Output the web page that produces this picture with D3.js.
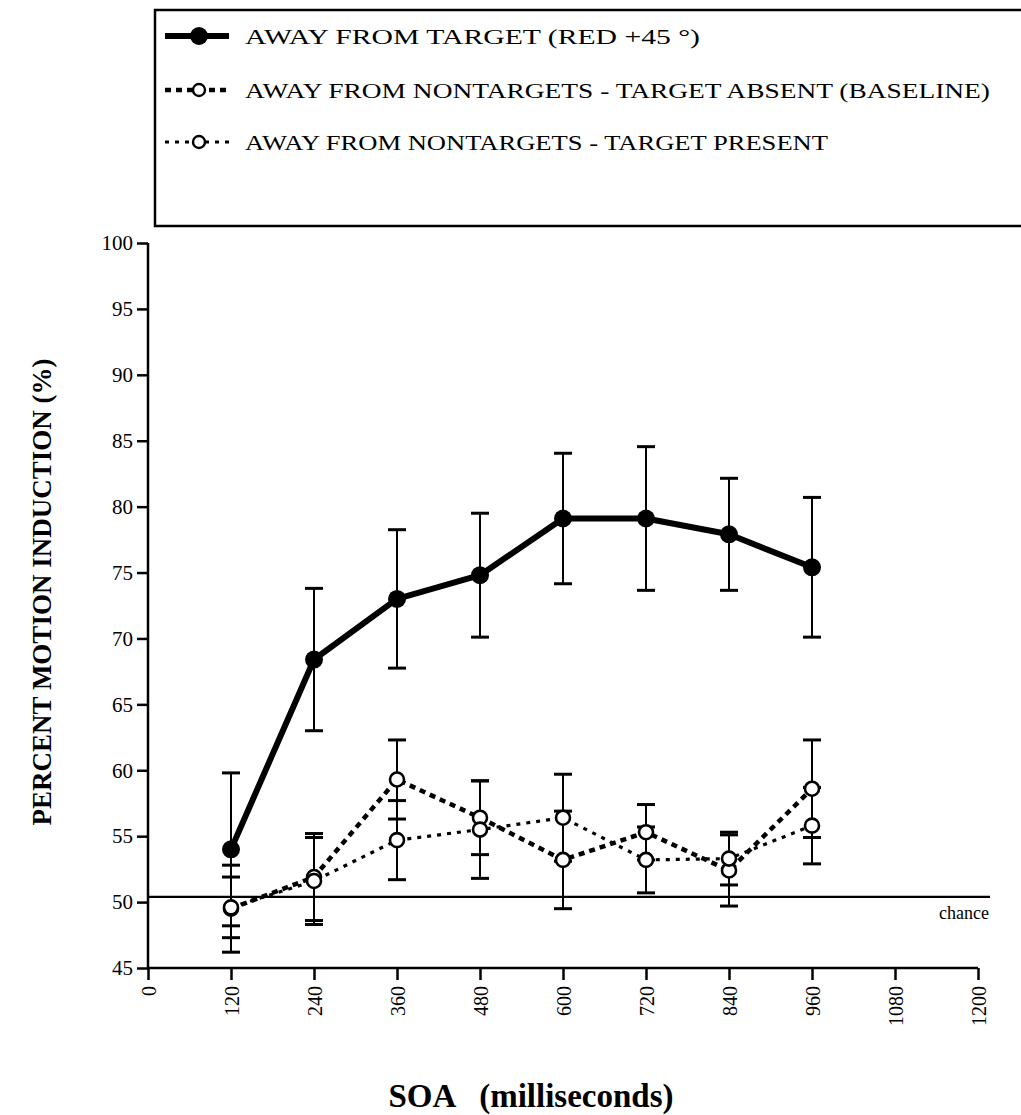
<!DOCTYPE html>
<html>
<head>
<meta charset="utf-8">
<script src="https://cdn.jsdelivr.net/npm/d3@7"></script>
<style>
    body { margin: 0; background: #fff; }
    text { font-family: "Liberation Serif", "Times New Roman", serif; fill: #000; }
</style>
</head>
<body>
<div class="view1"></div>
<script>

//SOA values (ms)
const soa = [120, 240, 360, 480, 600, 720, 840, 960];

//Away from target (red +45)
const targetMean = [54.0, 68.4, 73.0, 74.8, 79.1, 79.1, 77.9, 75.4];
const targetErr  = [5.8, 5.4, 5.25, 4.7, 4.95, 5.45, 4.25, 5.3];

//Away from nontargets - target absent (baseline)
const baseMean = [49.5, 51.9, 59.3, 56.4, 53.2, 55.3, 52.4, 58.6];
const baseErr  = [3.3, 3.3, 3.0, 2.8, 3.7, 2.1, 2.7, 3.7];

//Away from nontargets - target present
const presMean = [49.6, 51.6, 54.7, 55.5, 56.4, 53.2, 53.3, 55.8];
const presErr  = [2.3, 3.3, 3.0, 3.7, 3.3, 2.5, 2.0, 2.9];

const xTicks = [0, 120, 240, 360, 480, 600, 720, 840, 960, 1080, 1200];
const yTicks = [45, 50, 55, 60, 65, 70, 75, 80, 85, 90, 95, 100];
const chanceLevel = 50.4;

const legendLabels = [
    "AWAY FROM TARGET (RED +45 °)",
    "AWAY FROM NONTARGETS - TARGET ABSENT (BASELINE)",
    "AWAY FROM NONTARGETS - TARGET PRESENT"
];

/** Class for the line chart */
class Chart {
    constructor() {
        this.width = 1021;
        this.height = 1115;
        //plot area edges (pixels)
        this.margin = {top: 243, right: 43, bottom: 147, left: 148};

        this.x = d3.scaleLinear().domain([0, 1200])
            .range([this.margin.left, this.width - this.margin.right]);
        this.y = d3.scaleLinear().domain([45, 100])
            .range([this.height - this.margin.bottom, this.margin.top]);

        //styles for the three series
        this.series = [
            {mean: targetMean, err: targetErr, width: 6, dash: null, filled: true, r: 9},
            {mean: baseMean, err: baseErr, width: 4.5, dash: "6,5", filled: false, r: 8},
            {mean: presMean, err: presErr, width: 3.2, dash: "4,6", filled: false, r: 8}
        ];
    }

    draw() {
        let svg = d3.select(".view1").append("svg")
            .attr("width", this.width)
            .attr("height", this.height);

        this.drawLegend(svg);
        this.drawAxes(svg);

        //chance line
        svg.append("line")
            .attr("x1", this.x(0)).attr("x2", 990)
            .attr("y1", this.y(chanceLevel)).attr("y2", this.y(chanceLevel))
            .attr("stroke", "#000").attr("stroke-width", 2.2);
        svg.append("text")
            .attr("x", 989).attr("y", this.y(chanceLevel) + 22)
            .attr("text-anchor", "end")
            .style("font-size", "18px")
            .text("chance");

        //error bars first, lines and markers on top
        this.series.forEach(s => {
            let g = svg.append("g");
            soa.forEach((t, i) => {
                let cx = this.x(t);
                let top = this.y(s.mean[i] + s.err[i]);
                let bot = this.y(s.mean[i] - s.err[i]);
                g.append("line").attr("x1", cx).attr("x2", cx).attr("y1", top).attr("y2", bot)
                    .attr("stroke", "#000").attr("stroke-width", 2);
                [top, bot].forEach(yy => {
                    g.append("line").attr("x1", cx - 9).attr("x2", cx + 9).attr("y1", yy).attr("y2", yy)
                        .attr("stroke", "#000").attr("stroke-width", 3);
                });
            });
        });

        let line = d3.line()
            .x((d, i) => this.x(soa[i]))
            .y(d => this.y(d));

        this.series.forEach(s => {
            svg.append("path")
                .datum(s.mean)
                .attr("d", line)
                .attr("fill", "none")
                .attr("stroke", "#000")
                .attr("stroke-width", s.width)
                .attr("stroke-dasharray", s.dash)
                .attr("stroke-linejoin", "round");
        });

        this.series.forEach(s => {
            svg.append("g").selectAll("circle")
                .data(s.mean)
                .join("circle")
                .attr("cx", (d, i) => this.x(soa[i]))
                .attr("cy", d => this.y(d))
                .attr("r", s.filled ? s.r : s.r - 1)
                .attr("fill", s.filled ? "#000" : "#fff")
                .attr("stroke", "#000")
                .attr("stroke-width", s.filled ? 0 : 2.6);
        });
    }

    drawAxes(svg) {
        //y axis
        let yAxis = d3.axisLeft(this.y).tickValues(yTicks).tickSize(11).tickPadding(4);
        let gy = svg.append("g")
            .attr("transform", `translate(${this.margin.left},0)`)
            .call(yAxis);
        gy.select(".domain").attr("stroke-width", 2.5).attr("d",
            `M0,${this.y(100)}V${this.y(45)}`);
        gy.selectAll(".tick line").attr("stroke-width", 2.5);
        gy.selectAll(".tick text")
            .style("font-family", "'Liberation Serif', serif")
            .style("font-size", "21px")
            .attr("fill", "#000");

        //x axis
        let xAxis = d3.axisBottom(this.x).tickValues(xTicks).tickFormat(d3.format("d"))
            .tickSize(12).tickPadding(5);
        let gx = svg.append("g")
            .attr("transform", `translate(0,${this.y(45)})`)
            .call(xAxis);
        gx.select(".domain").attr("stroke-width", 2.5).attr("d",
            `M${this.x(0)},0H${this.x(1200)}`);
        gx.selectAll(".tick line").attr("stroke-width", 2.5);
        gx.selectAll(".tick text")
            .style("font-family", "'Liberation Serif', serif")
            .style("font-size", "20px")
            .attr("fill", "#000")
            .attr("transform", "rotate(-90)")
            .attr("text-anchor", "end")
            .attr("dy", "0.35em")
            .attr("x", -18)
            .attr("y", 0);

        //axis titles
        svg.append("text")
            .attr("x", 531).attr("y", 1107)
            .attr("text-anchor", "middle")
            .style("font-size", "33px").style("font-weight", "bold")
            .attr("xml:space", "preserve")
            .text("SOA   (milliseconds)");

        svg.append("text")
            .attr("transform", `translate(51,592) rotate(-90)`)
            .attr("text-anchor", "middle")
            .style("font-size", "27px").style("font-weight", "bold")
            .text("PERCENT MOTION INDUCTION (%)");
    }

    drawLegend(svg) {
        svg.append("rect")
            .attr("x", 155).attr("y", 10)
            .attr("width", 900).attr("height", 216)
            .attr("fill", "none").attr("stroke", "#000").attr("stroke-width", 2.5);

        let rows = [36, 90, 142];
        let lens = [455, 745, 583];
        this.series.forEach((s, i) => {
            svg.append("line")
                .attr("x1", 165).attr("x2", 229)
                .attr("y1", rows[i]).attr("y2", rows[i])
                .attr("stroke", "#000").attr("stroke-width", s.width)
                .attr("stroke-dasharray", s.dash);
            svg.append("circle")
                .attr("cx", 199).attr("cy", rows[i])
                .attr("r", s.filled ? s.r : s.r - 2)
                .attr("fill", s.filled ? "#000" : "#fff")
                .attr("stroke", "#000").attr("stroke-width", s.filled ? 0 : 2.4);
            svg.append("text")
                .attr("x", 245).attr("y", rows[i] + 8)
                .attr("textLength", lens[i])
                .attr("lengthAdjust", "spacingAndGlyphs")
                .style("font-size", "21px")
                .text(legendLabels[i]);
        });
    }
}

let chart = new Chart();
chart.draw();
</script>
</body>
</html>
